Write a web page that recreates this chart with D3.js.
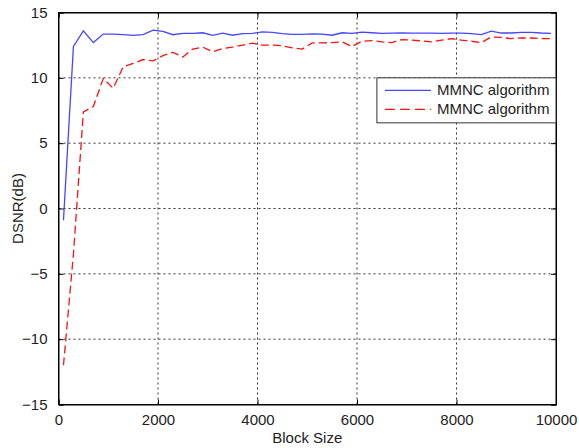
<!DOCTYPE html>
<meta charset="utf-8">
<head>
<script src="https://d3js.org/d3.v7.min.js"></script>
<style>
body { margin: 0; background: #fff; font-family: "Liberation Sans", Arial, sans-serif; }
.tick text { font: 15px "Liberation Sans", Arial, sans-serif; fill: #222; }
.grid line { stroke: #333; stroke-dasharray: 2,3; stroke-width: 1; }
</style>
</head>
<body>
<script>

// block sizes (x) and the two series
var blockSize = [100, 300, 500, 700, 900, 1100, 1300, 1500, 1700, 1900,
                 2100, 2300, 2500, 2700, 2900, 3100, 3300, 3500, 3700, 3900,
                 4100, 4300, 4500, 4700, 4900, 5100, 5300, 5500, 5700, 5900,
                 6100, 6300, 6500, 6700, 6900, 7100, 7300, 7500, 7700, 7900,
                 8100, 8300, 8500, 8700, 8900, 9100, 9300, 9500, 9700, 9900];

var blueSeries = [-0.9, 12.4, 13.6, 12.7, 13.35, 13.35, 13.3, 13.25, 13.3, 13.65,
                  13.55, 13.3, 13.4, 13.4, 13.45, 13.25, 13.42, 13.26, 13.38, 13.4,
                  13.52, 13.48, 13.38, 13.32, 13.32, 13.36, 13.34, 13.26, 13.45, 13.4,
                  13.5, 13.45, 13.4, 13.42, 13.44, 13.42, 13.42, 13.42, 13.4, 13.42,
                  13.42, 13.38, 13.3, 13.57, 13.43, 13.43, 13.48, 13.48, 13.43, 13.4];

var redSeries = [-12.0, -3.5, 7.4, 7.8, 9.95, 9.2, 10.85, 11.1, 11.4, 11.3,
                 11.7, 11.95, 11.6, 12.2, 12.35, 12.0, 12.25, 12.35, 12.5, 12.65,
                 12.5, 12.5, 12.45, 12.3, 12.2, 12.67, 12.67, 12.7, 12.75, 12.4,
                 12.8, 12.85, 12.75, 12.7, 12.93, 12.88, 12.83, 12.75, 12.88, 13.0,
                 12.88, 12.8, 12.7, 13.13, 13.09, 13.0, 13.05, 13.05, 13.0, 13.0];

var xTicks = [0, 2000, 4000, 6000, 8000, 10000];
var yTicks = [-15, -10, -5, 0, 5, 10, 15];
var legendLabels = ["MMNC algorithm", "MMNC algorithm"];

// dimensions
var margin = {top: 12.5, right: 23, bottom: 43.5, left: 58.5},
    width = 579 - margin.left - margin.right,
    height = 448 - margin.top - margin.bottom;

var x = d3.scaleLinear().domain([0, 10000]).range([0, width]);
var y = d3.scaleLinear().domain([-15, 15]).range([height, 0]);

var svg = d3.select("body").append("svg")
    .attr("width", 579)
    .attr("height", 448)
  .append("g")
    .attr("transform", "translate(" + margin.left + "," + margin.top + ")");

// grid
svg.append("g").attr("class", "grid")
  .selectAll("line").data(xTicks.slice(1, -1)).enter().append("line")
    .attr("x1", function(d) { return x(d); }).attr("x2", function(d) { return x(d); })
    .attr("y1", 0).attr("y2", height);
svg.append("g").attr("class", "grid")
  .selectAll("line").data(yTicks.slice(1, -1)).enter().append("line")
    .attr("y1", function(d) { return y(d); }).attr("y2", function(d) { return y(d); })
    .attr("x1", 0).attr("x2", width);

// lines
var line = d3.line()
    .x(function(d, i) { return x(blockSize[i]); })
    .y(function(d) { return y(d); });

svg.append("path").datum(blueSeries)
    .attr("fill", "none").attr("stroke", "#4646ff").attr("stroke-width", 1.3)
    .attr("d", line);

svg.append("path").datum(redSeries)
    .attr("fill", "none").attr("stroke", "#ff1010").attr("stroke-width", 1.3)
    .attr("stroke-dasharray", "8,4")
    .attr("d", line);

// axes (inward ticks like matlab)
var xAxis = svg.append("g")
    .attr("transform", "translate(0," + height + ")")
    .call(d3.axisBottom(x).tickValues(xTicks).tickSize(-5).tickPadding(10).tickFormat(d3.format("d")));
var yAxis = svg.append("g")
    .call(d3.axisLeft(y).tickValues(yTicks).tickSize(-5).tickPadding(10));
svg.append("g")
    .call(d3.axisTop(x).tickValues(xTicks).tickSize(-5).tickFormat(""));
svg.append("g")
    .attr("transform", "translate(" + width + ",0)")
    .call(d3.axisRight(y).tickValues(yTicks).tickSize(-5).tickFormat(""));
svg.selectAll(".domain").attr("stroke", "#000");
svg.selectAll(".tick line").attr("stroke", "#000");
yAxis.selectAll(".tick text").attr("dx", "-1");

// frame
svg.append("rect").attr("width", width).attr("height", height)
    .attr("fill", "none").attr("stroke", "#000");

// axis labels
svg.append("text")
    .attr("x", width / 2).attr("y", height + 38)
    .style("text-anchor", "middle").style("font-size", "15px").attr("fill", "#222")
    .text("Block Size");

svg.append("text")
    .attr("transform", "rotate(-90)")
    .attr("x", -height / 2).attr("y", -36)
    .style("text-anchor", "middle").style("font-size", "15px").attr("fill", "#222")
    .text("DSNR(dB)");

// legend
var legend = svg.append("g").attr("transform", "translate(" + (x(6400)) + "," + (y(10)) + ")");
legend.append("rect")
    .attr("width", width - x(6400)).attr("height", 45)
    .attr("fill", "#fff").attr("stroke", "#333");
var styles = [{c: "#4646ff", d: null}, {c: "#ff1010", d: "10,5"}];
legendLabels.forEach(function(lbl, i) {
  var yy = 12.5 + i * 19;
  legend.append("line")
      .attr("x1", 8).attr("x2", 54).attr("y1", yy).attr("y2", yy)
      .attr("stroke", styles[i].c).attr("stroke-width", 1.3)
      .attr("stroke-dasharray", styles[i].d);
  legend.append("text")
      .attr("x", 60).attr("y", yy + 5)
      .style("font-size", "15px").attr("fill", "#222")
      .text(lbl);
});

</script>
</body>
